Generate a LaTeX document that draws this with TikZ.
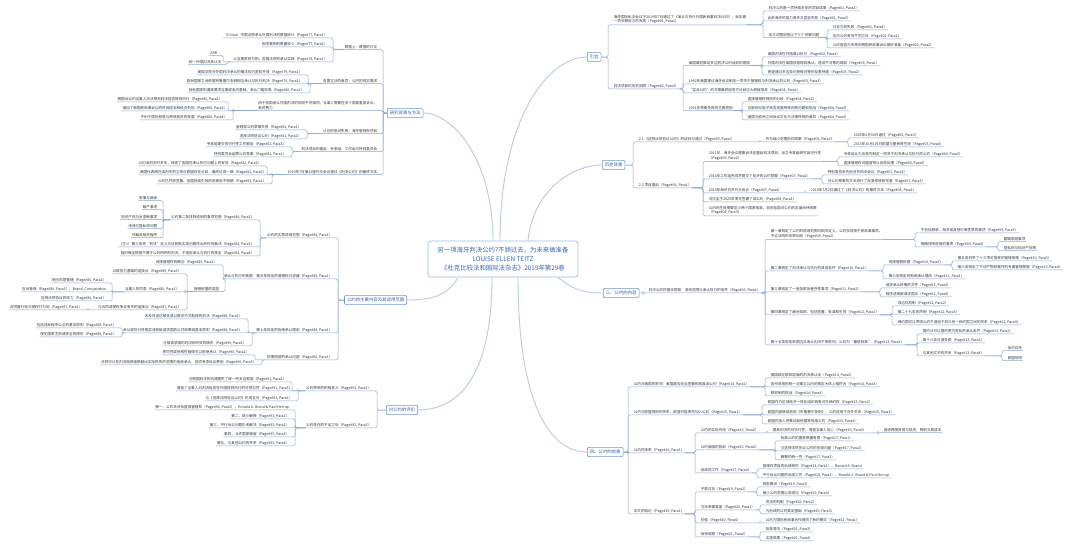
\documentclass[tikz,border=0pt]{standalone}
\usepackage{fontspec}
\newfontfamily\cjk{Noto Sans CJK SC}
\usetikzlibrary{calc}
\definecolor{conncol}{HTML}{8CA8D0}
\definecolor{brcol}{HTML}{B9CAE1}
\definecolor{txt}{HTML}{363636}
\definecolor{boxcol}{HTML}{7098CB}
\definecolor{boxtxt}{HTML}{2F60A8}
\definecolor{ctrtxt}{HTML}{3366B3}
\definecolor{ctrbd}{HTML}{A3BFE3}
\newcommand\pp[2]{（Page\##1, Para#2）}
\newcommand\rconn[2]{\draw[conn] (#1) -| ($(#2.south west)+(-5,0)$) -- (#2.south west) -- (#2.south east);}
\newcommand\lconn[2]{\draw[conn] (#1) -| ($(#2.south east)+(5,0)$) -- (#2.south east) -- (#2.south west);}
\tikzset{
 it/.style={font=\cjk\fontsize{3.6}{4.6}\selectfont, text=txt, inner xsep=0.6pt, inner ysep=0.8pt, align=left},
 ir/.style={it, anchor=west},
 il/.style={it, anchor=east},
 conn/.style={draw=conncol, line width=0.5pt, rounded corners=1.5pt},
 bline/.style={draw=brcol, line width=0.9pt},
 bbox/.style={draw=boxcol, line width=0.6pt, rounded corners=1.2pt, text=boxtxt, font=\cjk\fontsize{4.4}{5}\selectfont, inner xsep=2.5pt, inner ysep=2.6pt, fill=white},
}
\begin{document}
\begin{tikzpicture}[x=1pt,y=-1pt]
\useasboundingbox (0,0) rectangle (1080,547);
\fill[white] (0,0) rectangle (1080,547);
% center
\node[draw=ctrbd, line width=0.8pt, rounded corners=3pt, fill=white, text=ctrtxt, font=\cjk\fontsize{6.4}{9}\selectfont, align=center, minimum width=150pt, minimum height=36pt, inner sep=2pt] (c) at (503,259) {另一项海牙判决公约?不顾过去，为未来做准备\\LOUISE ELLEN TEITZ\\《杜克比较法和国际法杂志》2019年第29卷};
% main boxes
\node[bbox, anchor=west] (m1) at (387,113) {研究背景与方法};
\node[bbox, anchor=east] (m2) at (407,300) {公约的主要内容及其适用范围};
\node[bbox, anchor=east] (m3) at (418,410) {对公约的评价};
\node[bbox, anchor=west] (rm1) at (587,57) {引言};
\node[bbox, anchor=west] (rm2) at (602,165) {历史背景};
\node[bbox, anchor=west] (rm3) at (603,293) {三、公约的内容};
\node[bbox, anchor=west] (rm4) at (587,452) {四、公约的前景};
% main curves
\draw[bline] ([xshift=-10pt]c.north) .. controls +(0,-80) and +(30,0) .. (m1.east);
\draw[bline] ([xshift=-45pt]c.south) .. controls +(-10,18) and +(25,0) .. (m2.east);
\draw[bline] ([xshift=-11pt]c.south) .. controls +(0,100) and +(40,0) .. (m3.east);
\draw[bline] ([xshift=-3pt]c.north) .. controls +(0,-120) and +(-40,0) .. (rm1.west);
\draw[bline] ([xshift=25pt]c.north) .. controls +(5,-50) and +(-30,0) .. (rm2.west);
\draw[bline] ([xshift=55pt]c.south) .. controls +(15,12) and +(-20,0) .. (rm3.west);
\draw[bline] ([xshift=15pt]c.south) .. controls +(0,120) and +(-40,0) .. (rm4.west);

% ===== left m1 =====
\node[il] (a1) at (378,47) {数据上：数据的讨论};
\node[il] (a1a) at (328,35) {（China）中国法院承认外国判决的数据统计\pp{77}{1}};
\node[il] (a1b) at (328,44) {相关案例的数量较少\pp{77}{2}};
\node[il] (a1c) at (328,59) {以互惠原则为例，各国法院的承认实践\pp{78}{1}};
\node[il] (a1c1) at (218,53) {ARR};
\node[il] (a1c2) at (222,62) {统一外国判决承认法};
\node[il] (a2) at (378,81) {各国立法的差异：公约的现实需求};
\node[il] (a2a) at (303,72) {美国法院对外国判决承认的做法较为宽松开放\pp{79}{1}};
\node[il] (a2b) at (303,81) {欧洲国家之间依据布鲁塞尔条例相互承认与执行判决\pp{79}{2}};
\node[il] (a2c) at (305,90) {其他国家则通常要求互惠或条约基础，承认门槛较高\pp{80}{1}};
\node[il] (a3) at (378,105.5) {由于各国承认外国判决的规则不尽相同，当事人需要在多个国家重复诉讼，\\耗时费力};
\node[il] (a3a) at (223,99) {跨国诉讼的当事人无法预测判决能否得到执行\pp{80}{2}};
\node[il] (a3b) at (228,108) {增加了跨国民商事诉讼的时间成本和经济负担\pp{80}{3}};
\node[il] (a3c) at (228,117) {不利于国际贸易与跨境投资的发展\pp{80}{4}};
\node[il] (a4) at (378,131) {以往的尝试失败：海牙管辖权项目};
\node[il] (a4a) at (302,127) {管辖权公约草案失败\pp{81}{1}};
\node[il] (a4b) at (302,136) {选择法院协议公约\pp{81}{2}};
\node[il] (a5) at (378,149) {判决项目的重启：专家组、工作组与特别委员会};
\node[il] (a5a) at (287,144) {专家组提交的可行性工作报告\pp{81}{3}};
\node[il] (a5b) at (287,154) {特别委员会起草公约草案\pp{82}{1}};
\node[il] (a6) at (378,172) {2019年7月第22届外交会议通过《判决公约》的最终文本};
\node[il] (a6a) at (262,163) {公约谈判历时多年，体现了各国在承认执行问题上的妥协\pp{82}{2}};
\node[il] (a6b) at (267,172) {美国代表团在谈判中的立场与欧盟存在分歧，最终达成一致\pp{82}{3}};
\node[il] (a6c) at (267,181) {公约已开放签署，各国批准生效的前景尚不明朗\pp{83}{1}};
\lconn{m1.west}{a1}\lconn{m1.west}{a2}\lconn{m1.west}{a3}\lconn{m1.west}{a4}\lconn{m1.west}{a5}\lconn{m1.west}{a6}
\lconn{a1.south west}{a1a}\lconn{a1.south west}{a1b}\lconn{a1.south west}{a1c}
\lconn{a1c.south west}{a1c1}\lconn{a1c.south west}{a1c2}
\lconn{a2.south west}{a2a}\lconn{a2.south west}{a2b}\lconn{a2.south west}{a2c}
\lconn{a3.south west}{a3a}\lconn{a3.south west}{a3b}\lconn{a3.south west}{a3c}
\lconn{a4.south west}{a4a}\lconn{a4.south west}{a4b}
\lconn{a5.south west}{a5a}\lconn{a5.south west}{a5b}
\lconn{a6.south west}{a6a}\lconn{a6.south west}{a6b}\lconn{a6.south west}{a6c}

% ===== left m2 =====
\node[il] (b1) at (333,235) {公约的实质适用范围\pp{84}{1}};
\node[il] (b1a) at (255,217) {公约第二条排除适用的事项范围\pp{84}{2}};
\node[il] (b1a1) at (158,198) {家事与继承};
\node[il] (b1a2) at (158,207) {破产事项};
\node[il] (b1a3) at (158,217) {知识产权与反垄断事项};
\node[il] (b1a4) at (158,226) {诽谤与隐私权问题};
\node[il] (b1a5) at (158,235) {仲裁及相关程序};
\node[il] (b1b) at (255,244) {（注1）第三条将“判决”定义为法院就实体问题作出的任何裁决\pp{84}{3}};
\node[il] (b1c) at (255,253) {临时保全措施不属于公约所称的判决，不适用承认与执行的规定\pp{84}{4}};
\node[il] (b2) at (333,276) {承认与执行的依据：第五条规定的管辖权过滤器\pp{85}{1}};
\node[il] (b2a) at (218,262) {间接管辖权的概念\pp{85}{2}};
\node[il] (b2b) at (220,289) {管辖依据的类型};
\node[il] (b2b1) at (182,271) {以被告为基础的连接点\pp{85}{3}};
\node[il] (b2b2) at (180,289) {当事人的同意\pp{86}{1}};
\node[il] (b2b2a) at (107,280) {明示同意管辖\pp{86}{2}};
\node[il] (b2b2b) at (107,289) {应诉管辖\pp{86}{3}，Brand, Comparative};
\node[il] (b2b2c) at (107,298) {选择法院协议的效力\pp{86}{4}};
\node[il] (b2b3) at (182,307) {与合同或侵权争议有关的连接点\pp{87}{1}};
\node[il] (b2b3a) at (83,307) {合同履行地与侵权行为地\pp{87}{2}};
\node[il] (b3) at (333,330) {第七条规定的拒绝承认理由\pp{88}{1}};
\node[il] (b3a) at (243,316) {未及时送达被告或以欺诈方式取得的判决\pp{88}{2}};
\node[il] (b3b) at (243,330) {承认或执行将明显违背被请求国的公共政策或基本原则\pp{88}{3}};
\node[il] (b3b1) at (117,325) {包括违反程序公正的基本原则\pp{89}{1}};
\node[il] (b3b2) at (117,334) {侵犯国家主权或安全的情形\pp{89}{2}};
\node[il] (b3c) at (247,343) {与被请求国的判决相冲突的情形\pp{89}{3}};
\node[il] (b4) at (333,357) {损害赔偿的承认问题\pp{90}{1}};
\node[il] (b4a) at (250,352) {惩罚性或惩戒性赔偿可以拒绝承认\pp{90}{2}};
\node[il] (b4b) at (257,362) {法院可以在判决赔偿金额超出实际损失的范围内拒绝承认，但须考虑诉讼费用\pp{90}{3}};
\lconn{m2.west}{b1}\lconn{m2.west}{b2}\lconn{m2.west}{b3}\lconn{m2.west}{b4}
\lconn{b1.south west}{b1a}\lconn{b1.south west}{b1b}\lconn{b1.south west}{b1c}
\lconn{b1a.south west}{b1a1}\lconn{b1a.south west}{b1a2}\lconn{b1a.south west}{b1a3}\lconn{b1a.south west}{b1a4}\lconn{b1a.south west}{b1a5}
\lconn{b2.south west}{b2a}\lconn{b2.south west}{b2b}
\lconn{b2b.south west}{b2b1}\lconn{b2b.south west}{b2b2}\lconn{b2b.south west}{b2b3}
\lconn{b2b2.south west}{b2b2a}\lconn{b2b2.south west}{b2b2b}\lconn{b2b2.south west}{b2b2c}
\lconn{b2b3.south west}{b2b3a}
\lconn{b3.south west}{b3a}\lconn{b3.south west}{b3b}\lconn{b3.south west}{b3c}
\lconn{b3b.south west}{b3b1}\lconn{b3b.south west}{b3b2}
\lconn{b4.south west}{b4a}\lconn{b4.south west}{b4b}

% ===== left m3 =====
\node[il] (c1) at (372,388) {公约带来的积极意义\pp{91}{1}};
\node[il] (c1a) at (287,379) {为跨国判决的流通提供了统一的多边框架\pp{91}{2}};
\node[il] (c1b) at (293,388) {增强了当事人对判决能否在外国得到执行的可预见性\pp{91}{3}};
\node[il] (c1c) at (293,398) {与《选择法院协议公约》形成互补\pp{92}{1}};
\node[il] (c2) at (372,425) {公约存在的不足之处\pp{92}{2}};
\node[il] (c2a) at (290,407) {第一，公约未涉及直接管辖权\pp{92}{3}，Ronald A. Brand \& Paul Herrup};
\node[il] (c2b) at (290,416) {第二，缺少解释\pp{93}{1}};
\node[il] (c2c) at (290,425) {第三，平行诉讼问题仍未解决\pp{93}{2}};
\node[il] (c2d) at (290,434) {第四，允许国家保留\pp{93}{3}};
\node[il] (c2e) at (290,443) {第五，与其他公约的关系\pp{93}{4}};
\lconn{m3.west}{c1}\lconn{m3.west}{c2}
\lconn{c1.south west}{c1a}\lconn{c1.south west}{c1b}\lconn{c1.south west}{c1c}
\lconn{c2.south west}{c2a}\lconn{c2.south west}{c2b}\lconn{c2.south west}{c2c}\lconn{c2.south west}{c2d}\lconn{c2.south west}{c2e}

% ===== right rm1 =====
\node[ir] (r1) at (613,19.5) {海牙国际私法会议于2019年7月通过了《承认与执行外国民商事判决公约》，标志着\\一项长期努力的完成\pp{01}{1}};
\node[ir] (r1a) at (768,8) {判决公约是一项持续多年的项目成果\pp{01}{2}};
\node[ir] (r1b) at (767,18) {此前海牙的努力曾多次宣告失败\pp{01}{3}};
\node[ir] (r1c) at (768,35) {本文试图回答以下三个关键问题};
\node[ir] (r1c1) at (832,27) {过去为何失败\pp{01}{4}};
\node[ir] (r1c2) at (832,36) {这次公约有何不同之处\pp{02}{1}};
\node[ir] (r1c3) at (832,45) {公约能否为未来的跨国民商事诉讼做好准备\pp{02}{2}};
\node[ir] (r2) at (613,86) {判决项目的历史回顾\pp{02}{3}};
\node[ir] (r2a) at (688,63) {美国最初推动多边判决公约谈判的原因};
\node[ir] (r2a1) at (767,54) {美国判决在外国难以执行\pp{02}{4}};
\node[ir] (r2a2) at (767,63) {外国判决在美国较易得到承认，造成不对等的局面\pp{03}{1}};
\node[ir] (r2a3) at (767,72) {希望通过多边条约获得对等的互惠待遇\pp{03}{2}};
\node[ir] (r2b) at (688,81) {1992年美国提议海牙会议制定一项关于管辖权与判决承认的公约\pp{03}{3}};
\node[ir] (r2c) at (688,90) {“混合公约”的方案最终因各方分歧过大而被放弃\pp{04}{1}};
\node[ir] (r2d) at (688,108) {2001年草案失败的主要原因};
\node[ir] (r2d1) at (747,99) {直接管辖权规则的分歧\pp{04}{2}};
\node[ir] (r2d2) at (747,108) {互联网与电子商务发展带来的新问题和挑战\pp{04}{3}};
\node[ir] (r2d3) at (747,117) {美国与欧洲之间诉讼文化与法律传统的差异\pp{04}{4}};
\rconn{rm1.east}{r1}\rconn{rm1.east}{r2}
\rconn{r1.south east}{r1a}\rconn{r1.south east}{r1b}\rconn{r1.south east}{r1c}
\rconn{r1c.south east}{r1c1}\rconn{r1c.south east}{r1c2}\rconn{r1c.south east}{r1c3}
\rconn{r2.south east}{r2a}\rconn{r2.south east}{r2b}\rconn{r2.south east}{r2c}\rconn{r2.south east}{r2d}
\rconn{r2a.south east}{r2a1}\rconn{r2a.south east}{r2a2}\rconn{r2a.south east}{r2a3}
\rconn{r2d.south east}{r2d1}\rconn{r2d.south east}{r2d2}\rconn{r2d.south east}{r2d3}

% ===== right rm2 =====
\node[ir] (r3) at (638,139) {2.1 《选择法院协议公约》的谈判与通过\pp{05}{1}};
\node[ir] (r3a) at (765,139) {作为缩小范围后的成果\pp{05}{2}};
\node[ir] (r3a1) at (853,135) {2005年6月30日通过\pp{05}{3}};
\node[ir] (r3a2) at (853,144) {2015年10月1日对欧盟与墨西哥生效\pp{05}{4}};
\node[ir] (r4) at (638,185) {2.2 项目重启\pp{06}{1}};
\node[ir] (r4a) at (708,156) {2011年，海牙会议理事会决定重启判决项目，设立专家组研究其可行性\\\pp{06}{2}};
\node[ir] (r4a1) at (843,154) {专家组认为应首先制定一项关于判决承认与执行的公约\pp{06}{3}};
\node[ir] (r4a2) at (843,163) {直接管辖权问题留待以后再处理\pp{06}{4}};
\node[ir] (r4b) at (708,176) {2016年工作组完成并提交了初步的公约草案\pp{07}{1}};
\node[ir] (r4b1) at (827,172) {特别委员会先后召开四次会议\pp{07}{2}};
\node[ir] (r4b2) at (827,181) {对公约草案的文本进行了反复修改和完善\pp{07}{3}};
\node[ir] (r4c) at (708,190) {2019年海牙召开外交会议\pp{07}{4}};
\node[ir] (r4c1) at (810,190) {2019年7月2日通过了《判决公约》的最终文本\pp{08}{1}};
\node[ir] (r4d) at (708,199) {乌拉圭于2020年率先签署了该公约\pp{08}{2}};
\node[ir] (r4e) at (708,210.5) {公约的生效需要至少两个国家批准，目前各国对公约的态度尚待观察\\\pp{08}{3}};
\rconn{rm2.east}{r3}\rconn{rm2.east}{r4}
\rconn{r3.south east}{r3a}
\rconn{r3a.south east}{r3a1}\rconn{r3a.south east}{r3a2}
\rconn{r4.south east}{r4a}\rconn{r4.south east}{r4b}\rconn{r4.south east}{r4c}\rconn{r4.south east}{r4d}\rconn{r4.south east}{r4e}
\rconn{r4a.south east}{r4a1}\rconn{r4a.south east}{r4a2}
\rconn{r4b.south east}{r4b1}\rconn{r4b.south east}{r4b2}
\rconn{r4c.south east}{r4c1}

% ===== right rm3 =====
\node[ir] (r5) at (648,290) {判决公约的基本框架：适用范围与承认执行的条件\pp{09}{1}};
\node[ir] (r5a) at (770,234) {第一章规定了公约的适用范围与相关定义，公约仅适用于民商事事项，\\不论法院的名称如何\pp{09}{2}};
\node[ir] (r5a1) at (920,230) {不包括税收、海关或其他行政性质的事项\pp{09}{3}};
\node[ir] (r5a2) at (920,244) {明确排除适用的事项\pp{09}{4}};
\node[ir] (r5a2a) at (1003,239) {婚姻家庭事项};
\node[ir] (r5a2b) at (1003,248) {隐私权与知识产权等};
\node[ir] (r5b) at (770,268) {第二章规定了判决承认与执行的具体条件\pp{10}{1}};
\node[ir] (r5b1) at (888,262) {间接管辖依据\pp{10}{2}};
\node[ir] (r5b1a) at (957,258) {第五条列举了十三项可接受的管辖依据\pp{10}{3}};
\node[ir] (r5b1b) at (957,267) {第六条规定了不动产物权案件的专属管辖依据\pp{10}{4}};
\node[ir] (r5b2) at (888,276) {第七条规定的拒绝承认理由\pp{11}{1}};
\node[ir] (r5c) at (770,289) {第三章规定了一般条款及程序性事项\pp{11}{2}};
\node[ir] (r5c1) at (885,285) {请求承认所需的文件\pp{11}{3}};
\node[ir] (r5c2) at (885,294) {程序适用被请求国法\pp{11}{4}};
\node[ir] (r5d) at (770,312) {第四章规定了最后条款，包括签署、批准和生效\pp{12}{1}};
\node[ir] (r5d1) at (897,303) {双边化机制\pp{12}{2}};
\node[ir] (r5d2) at (897,312) {第二十九条的声明\pp{12}{3}};
\node[ir] (r5d3) at (897,322) {缔约国可以声明公约不适用于其与另一缔约国之间的关系\pp{12}{4}};
\node[ir] (r5e) at (770,342) {第十五条规定依国内法承认判决不受影响，公约为“最低标准”\pp{13}{1}};
\node[ir] (r5e1) at (922,331) {国内法可以提供更为宽松的承认条件\pp{13}{2}};
\node[ir] (r5e2) at (922,340) {第十六条过渡条款\pp{13}{3}};
\node[ir] (r5e3) at (922,353) {与其他文书的关系\pp{13}{4}};
\node[ir] (r5e3a) at (1007,348) {条约优先};
\node[ir] (r5e3b) at (1007,358) {欧盟规则};
\rconn{rm3.east}{r5}
\rconn{r5.south east}{r5a}\rconn{r5.south east}{r5b}\rconn{r5.south east}{r5c}\rconn{r5.south east}{r5d}\rconn{r5.south east}{r5e}
\rconn{r5a.south east}{r5a1}\rconn{r5a.south east}{r5a2}
\rconn{r5a2.south east}{r5a2a}\rconn{r5a2.south east}{r5a2b}
\rconn{r5b.south east}{r5b1}\rconn{r5b.south east}{r5b2}
\rconn{r5b1.south east}{r5b1a}\rconn{r5b1.south east}{r5b1b}
\rconn{r5c.south east}{r5c1}\rconn{r5c.south east}{r5c2}
\rconn{r5d.south east}{r5d1}\rconn{r5d.south east}{r5d2}\rconn{r5d.south east}{r5d3}
\rconn{r5e.south east}{r5e1}\rconn{r5e.south east}{r5e2}\rconn{r5e.south east}{r5e3}
\rconn{r5e3.south east}{r5e3a}\rconn{r5e3.south east}{r5e3b}

% ===== right rm4 =====
\node[ir] (r6) at (633,384) {公约对美国的影响：美国是否应当签署和批准该公约\pp{14}{1}};
\node[ir] (r6a) at (770,375) {美国缺乏联邦层面的判决承认法\pp{14}{2}};
\node[ir] (r6b) at (770,384) {各州采用的统一法案与公约的规定大体上相符合\pp{14}{3}};
\node[ir] (r6c) at (770,393) {联邦制的挑战\pp{14}{4}};
\node[ir] (r7) at (633,412) {公约与欧盟规则的关系：欧盟可能率先加入公约\pp{15}{1}};
\node[ir] (r7a) at (767,402) {欧盟作为区域经济一体化组织具有对外缔约权\pp{15}{2}};
\node[ir] (r7b) at (767,412) {欧盟内部继续适用《布鲁塞尔条例》，公约适用于对外关系\pp{15}{3}};
\node[ir] (r7c) at (767,421) {欧盟的加入将推动其他国家批准公约\pp{15}{4}};
\node[ir] (r8) at (633,450) {公约的未来\pp{16}{1}};
\node[ir] (r8a) at (700,430) {公约的实际作用\pp{16}{2}};
\node[ir] (r8a1) at (772,430) {提高判决的可执行性，增强当事人信心\pp{16}{3}};
\node[ir] (r8a2) at (883,430) {促进跨国贸易与投资，降低交易成本};
\node[ir] (r8b) at (700,447) {公约面临的挑战\pp{16}{4}};
\node[ir] (r8b1) at (780,438) {批准公约的国家数量有限\pp{17}{1}};
\node[ir] (r8b2) at (780,448) {与选择法院协议公约的协调问题\pp{17}{2}};
\node[ir] (r8b3) at (780,457) {解释的统一性\pp{17}{3}};
\node[ir] (r8c) at (700,470) {后续的工作\pp{17}{4}};
\node[ir] (r8c1) at (762,466) {管辖权项目的后续研究\pp{18}{1}，Ronald A. Brand};
\node[ir] (r8c2) at (762,475) {平行诉讼问题的后续工作\pp{18}{2}，Ronald A. Brand \& Paul Herrup};
\node[ir] (r9) at (633,511) {本文的结论\pp{19}{1}};
\node[ir] (r9a) at (700,489) {不顾过去\pp{19}{2}};
\node[ir] (r9a1) at (762,484) {吸取教训\pp{19}{3}};
\node[ir] (r9a2) at (762,493) {缩小公约范围以求成功\pp{19}{4}};
\node[ir] (r9b) at (700,507) {为未来做准备\pp{20}{1}};
\node[ir] (r9b1) at (765,502) {灵活的机制\pp{20}{2}};
\node[ir] (r9b2) at (765,511) {为后续的公约奠定基础\pp{20}{3}};
\node[ir] (r9c) at (700,520) {价值\pp{20}{4}};
\node[ir] (r9c1) at (765,520) {公约为国际民商事合作提供了新的模式\pp{21}{1}};
\node[ir] (r9d) at (700,534) {尚待观察\pp{21}{2}};
\node[ir] (r9d1) at (765,529) {批准情况\pp{21}{3}};
\node[ir] (r9d2) at (765,538) {实施效果\pp{21}{4}};
\rconn{rm4.east}{r6}\rconn{rm4.east}{r7}\rconn{rm4.east}{r8}\rconn{rm4.east}{r9}
\rconn{r6.south east}{r6a}\rconn{r6.south east}{r6b}\rconn{r6.south east}{r6c}
\rconn{r7.south east}{r7a}\rconn{r7.south east}{r7b}\rconn{r7.south east}{r7c}
\rconn{r8.south east}{r8a}\rconn{r8.south east}{r8b}\rconn{r8.south east}{r8c}
\rconn{r8a.south east}{r8a1}\rconn{r8a1.south east}{r8a2}
\rconn{r8b.south east}{r8b1}\rconn{r8b.south east}{r8b2}\rconn{r8b.south east}{r8b3}
\rconn{r8c.south east}{r8c1}\rconn{r8c.south east}{r8c2}
\rconn{r9.south east}{r9a}\rconn{r9.south east}{r9b}\rconn{r9.south east}{r9c}\rconn{r9.south east}{r9d}
\rconn{r9a.south east}{r9a1}\rconn{r9a.south east}{r9a2}
\rconn{r9b.south east}{r9b1}\rconn{r9b.south east}{r9b2}
\rconn{r9c.south east}{r9c1}
\rconn{r9d.south east}{r9d1}\rconn{r9d.south east}{r9d2}
\end{tikzpicture}
\end{document}
